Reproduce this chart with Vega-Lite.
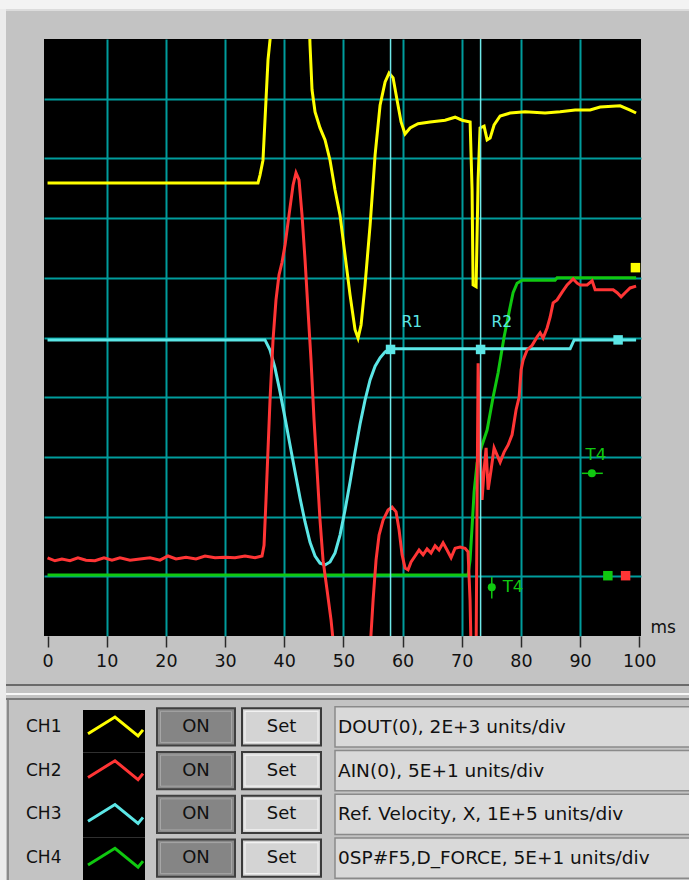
{
"$schema": "https://vega.github.io/schema/vega-lite/v6.json",
"width": 597, "height": 597,
"autosize": "none",
"padding": {"left": 44, "top": 39, "right": 48, "bottom": 244},
"background": "#c3c3c3",
"config": {"view": {"fill": "#000000", "stroke": null}, "font": "DejaVu Sans"},
"datasets": {
"one": [{}],
"traces": [
{"ch":"CH1","ms":0,"v":7.59},{"ch":"CH1","ms":35.57,"v":7.59},{"ch":"CH1","ms":35.91,"v":7.72},{"ch":"CH1","ms":36.41,"v":7.97},{"ch":"CH1","ms":36.92,"v":8.98},{"ch":"CH1","ms":37.26,"v":9.65},{"ch":"CH1","ms":37.77,"v":10.15},{"ch":"CH1","ms":38.44,"v":10.99},{"ch":"CH1","ms":44.02,"v":10.99},{"ch":"CH1","ms":44.36,"v":9.9},{"ch":"CH1","ms":44.7,"v":9.15},{"ch":"CH1","ms":45.21,"v":8.78},{"ch":"CH1","ms":46.05,"v":8.51},{"ch":"CH1","ms":46.9,"v":8.31},{"ch":"CH1","ms":47.74,"v":7.97},{"ch":"CH1","ms":48.59,"v":7.47},{"ch":"CH1","ms":49.43,"v":7.05},{"ch":"CH1","ms":50.28,"v":6.38},{"ch":"CH1","ms":51.13,"v":5.71},{"ch":"CH1","ms":51.97,"v":5.13},{"ch":"CH1","ms":52.48,"v":4.99},{"ch":"CH1","ms":52.99,"v":5.21},{"ch":"CH1","ms":53.66,"v":5.88},{"ch":"CH1","ms":54.51,"v":6.88},{"ch":"CH1","ms":55.36,"v":8.06},{"ch":"CH1","ms":56.2,"v":8.89},{"ch":"CH1","ms":57.05,"v":9.28},{"ch":"CH1","ms":57.72,"v":9.43},{"ch":"CH1","ms":58.4,"v":9.35},{"ch":"CH1","ms":59.07,"v":8.98},{"ch":"CH1","ms":59.75,"v":8.61},{"ch":"CH1","ms":60.42,"v":8.41},{"ch":"CH1","ms":61.27,"v":8.51},{"ch":"CH1","ms":62.62,"v":8.58},{"ch":"CH1","ms":64.65,"v":8.61},{"ch":"CH1","ms":67.19,"v":8.64},{"ch":"CH1","ms":68.88,"v":8.69},{"ch":"CH1","ms":70.07,"v":8.64},{"ch":"CH1","ms":71.42,"v":8.61},{"ch":"CH1","ms":71.75,"v":7.47},{"ch":"CH1","ms":71.92,"v":5.88},{"ch":"CH1","ms":72.43,"v":5.85},{"ch":"CH1","ms":72.77,"v":7.64},{"ch":"CH1","ms":73.1,"v":8.51},{"ch":"CH1","ms":73.78,"v":8.54},{"ch":"CH1","ms":74.29,"v":8.31},{"ch":"CH1","ms":74.8,"v":8.34},{"ch":"CH1","ms":75.47,"v":8.56},{"ch":"CH1","ms":76.49,"v":8.71},{"ch":"CH1","ms":78.18,"v":8.76},{"ch":"CH1","ms":80.71,"v":8.78},{"ch":"CH1","ms":84.09,"v":8.76},{"ch":"CH1","ms":86.63,"v":8.78},{"ch":"CH1","ms":89.17,"v":8.81},{"ch":"CH1","ms":91.7,"v":8.81},{"ch":"CH1","ms":93.39,"v":8.86},{"ch":"CH1","ms":96.77,"v":8.88},{"ch":"CH1","ms":98.46,"v":8.81},{"ch":"CH1","ms":99.47,"v":8.76},
{"ch":"CH2","ms":0,"v":1.31},{"ch":"CH2","ms":1.25,"v":1.26},{"ch":"CH2","ms":2.43,"v":1.29},{"ch":"CH2","ms":3.79,"v":1.26},{"ch":"CH2","ms":5.14,"v":1.31},{"ch":"CH2","ms":6.49,"v":1.27},{"ch":"CH2","ms":8.01,"v":1.26},{"ch":"CH2","ms":9.54,"v":1.31},{"ch":"CH2","ms":10.89,"v":1.27},{"ch":"CH2","ms":12.24,"v":1.31},{"ch":"CH2","ms":13.93,"v":1.27},{"ch":"CH2","ms":15.62,"v":1.29},{"ch":"CH2","ms":17.31,"v":1.31},{"ch":"CH2","ms":19.0,"v":1.27},{"ch":"CH2","ms":20.36,"v":1.34},{"ch":"CH2","ms":21.71,"v":1.29},{"ch":"CH2","ms":23.4,"v":1.32},{"ch":"CH2","ms":25.09,"v":1.29},{"ch":"CH2","ms":26.61,"v":1.34},{"ch":"CH2","ms":28.3,"v":1.31},{"ch":"CH2","ms":29.99,"v":1.32},{"ch":"CH2","ms":31.68,"v":1.31},{"ch":"CH2","ms":33.37,"v":1.34},{"ch":"CH2","ms":35.06,"v":1.31},{"ch":"CH2","ms":36.25,"v":1.34},{"ch":"CH2","ms":36.59,"v":1.52},{"ch":"CH2","ms":36.92,"v":2.28},{"ch":"CH2","ms":37.26,"v":3.12},{"ch":"CH2","ms":37.6,"v":3.95},{"ch":"CH2","ms":38.11,"v":4.96},{"ch":"CH2","ms":38.61,"v":5.63},{"ch":"CH2","ms":39.12,"v":6.05},{"ch":"CH2","ms":39.63,"v":6.26},{"ch":"CH2","ms":40.14,"v":6.55},{"ch":"CH2","ms":40.81,"v":7.05},{"ch":"CH2","ms":41.49,"v":7.55},{"ch":"CH2","ms":41.99,"v":7.76},{"ch":"CH2","ms":42.5,"v":7.64},{"ch":"CH2","ms":43.01,"v":7.05},{"ch":"CH2","ms":43.52,"v":6.3},{"ch":"CH2","ms":44.02,"v":5.46},{"ch":"CH2","ms":44.53,"v":4.62},{"ch":"CH2","ms":45.04,"v":3.62},{"ch":"CH2","ms":45.55,"v":2.78},{"ch":"CH2","ms":46.05,"v":1.94},{"ch":"CH2","ms":46.56,"v":1.27},{"ch":"CH2","ms":47.24,"v":0.77},{"ch":"CH2","ms":47.91,"v":0.27},{"ch":"CH2","ms":48.42,"v":-0.23},{"ch":"CH2","ms":51.13,"v":-1.41},{"ch":"CH2","ms":54.51,"v":-0.23},{"ch":"CH2","ms":55.02,"v":0.6},{"ch":"CH2","ms":55.52,"v":1.27},{"ch":"CH2","ms":56.03,"v":1.69},{"ch":"CH2","ms":56.71,"v":1.94},{"ch":"CH2","ms":57.55,"v":2.11},{"ch":"CH2","ms":58.23,"v":2.16},{"ch":"CH2","ms":58.9,"v":2.08},{"ch":"CH2","ms":59.41,"v":1.78},{"ch":"CH2","ms":59.92,"v":1.36},{"ch":"CH2","ms":60.42,"v":1.14},{"ch":"CH2","ms":60.93,"v":1.11},{"ch":"CH2","ms":61.44,"v":1.24},{"ch":"CH2","ms":62.12,"v":1.34},{"ch":"CH2","ms":62.79,"v":1.44},{"ch":"CH2","ms":63.47,"v":1.36},{"ch":"CH2","ms":64.14,"v":1.46},{"ch":"CH2","ms":64.82,"v":1.39},{"ch":"CH2","ms":65.5,"v":1.51},{"ch":"CH2","ms":66.17,"v":1.44},{"ch":"CH2","ms":66.85,"v":1.56},{"ch":"CH2","ms":67.52,"v":1.44},{"ch":"CH2","ms":68.2,"v":1.31},{"ch":"CH2","ms":68.88,"v":1.47},{"ch":"CH2","ms":69.72,"v":1.49},{"ch":"CH2","ms":70.57,"v":1.47},{"ch":"CH2","ms":71.07,"v":1.41},{"ch":"CH2","ms":71.41,"v":0.6},{"ch":"CH2","ms":71.58,"v":-0.23},{"ch":"CH2","ms":72.09,"v":-0.74},{"ch":"CH2","ms":72.43,"v":-0.23},{"ch":"CH2","ms":72.6,"v":2.28},{"ch":"CH2","ms":72.77,"v":4.57},{"ch":"CH2","ms":73.1,"v":3.12},{"ch":"CH2","ms":73.44,"v":2.28},{"ch":"CH2","ms":73.78,"v":2.78},{"ch":"CH2","ms":74.12,"v":3.15},{"ch":"CH2","ms":74.46,"v":2.45},{"ch":"CH2","ms":74.96,"v":2.78},{"ch":"CH2","ms":75.47,"v":3.15},{"ch":"CH2","ms":75.98,"v":3.03},{"ch":"CH2","ms":76.49,"v":2.91},{"ch":"CH2","ms":77.16,"v":3.08},{"ch":"CH2","ms":77.84,"v":3.2},{"ch":"CH2","ms":78.51,"v":3.37},{"ch":"CH2","ms":79.19,"v":3.79},{"ch":"CH2","ms":79.7,"v":4.0},{"ch":"CH2","ms":80.04,"v":4.46},{"ch":"CH2","ms":80.37,"v":4.62},{"ch":"CH2","ms":81.05,"v":4.79},{"ch":"CH2","ms":81.9,"v":4.87},{"ch":"CH2","ms":82.74,"v":5.01},{"ch":"CH2","ms":83.25,"v":5.08},{"ch":"CH2","ms":83.76,"v":4.99},{"ch":"CH2","ms":84.43,"v":5.16},{"ch":"CH2","ms":84.94,"v":5.34},{"ch":"CH2","ms":85.45,"v":5.58},{"ch":"CH2","ms":86.12,"v":5.63},{"ch":"CH2","ms":86.97,"v":5.76},{"ch":"CH2","ms":87.81,"v":5.88},{"ch":"CH2","ms":88.83,"v":5.98},{"ch":"CH2","ms":89.51,"v":5.91},{"ch":"CH2","ms":90.01,"v":5.88},{"ch":"CH2","ms":91.19,"v":5.88},{"ch":"CH2","ms":92.04,"v":5.95},{"ch":"CH2","ms":92.55,"v":5.8},{"ch":"CH2","ms":95.59,"v":5.8},{"ch":"CH2","ms":96.27,"v":5.75},{"ch":"CH2","ms":96.94,"v":5.68},{"ch":"CH2","ms":97.62,"v":5.75},{"ch":"CH2","ms":98.46,"v":5.83},{"ch":"CH2","ms":99.47,"v":5.86},
{"ch":"CH3","ms":0,"v":4.96},{"ch":"CH3","ms":36.75,"v":4.96},{"ch":"CH3","ms":37.6,"v":4.79},{"ch":"CH3","ms":38.44,"v":4.49},{"ch":"CH3","ms":39.29,"v":4.09},{"ch":"CH3","ms":40.14,"v":3.65},{"ch":"CH3","ms":40.98,"v":3.2},{"ch":"CH3","ms":41.83,"v":2.75},{"ch":"CH3","ms":42.67,"v":2.31},{"ch":"CH3","ms":43.52,"v":1.91},{"ch":"CH3","ms":44.36,"v":1.57},{"ch":"CH3","ms":45.21,"v":1.34},{"ch":"CH3","ms":46.05,"v":1.22},{"ch":"CH3","ms":46.9,"v":1.19},{"ch":"CH3","ms":47.74,"v":1.24},{"ch":"CH3","ms":48.59,"v":1.39},{"ch":"CH3","ms":49.43,"v":1.69},{"ch":"CH3","ms":50.28,"v":2.11},{"ch":"CH3","ms":51.13,"v":2.58},{"ch":"CH3","ms":51.97,"v":3.08},{"ch":"CH3","ms":52.82,"v":3.55},{"ch":"CH3","ms":53.66,"v":3.95},{"ch":"CH3","ms":54.51,"v":4.29},{"ch":"CH3","ms":55.36,"v":4.52},{"ch":"CH3","ms":56.2,"v":4.66},{"ch":"CH3","ms":57.05,"v":4.76},{"ch":"CH3","ms":57.89,"v":4.81},{"ch":"CH3","ms":88.32,"v":4.81},{"ch":"CH3","ms":89.0,"v":4.96},{"ch":"CH3","ms":99.47,"v":4.96},
{"ch":"CH4","ms":0,"v":1.02},{"ch":"CH4","ms":71.07,"v":1.02},{"ch":"CH4","ms":71.41,"v":1.27},{"ch":"CH4","ms":71.75,"v":1.83},{"ch":"CH4","ms":72.09,"v":2.41},{"ch":"CH4","ms":72.6,"v":2.9},{"ch":"CH4","ms":73.44,"v":3.2},{"ch":"CH4","ms":74.29,"v":3.45},{"ch":"CH4","ms":75.3,"v":4.0},{"ch":"CH4","ms":76.15,"v":4.41},{"ch":"CH4","ms":77.16,"v":5.01},{"ch":"CH4","ms":78.18,"v":5.51},{"ch":"CH4","ms":78.68,"v":5.75},{"ch":"CH4","ms":79.36,"v":5.91},{"ch":"CH4","ms":80.2,"v":5.96},{"ch":"CH4","ms":85.78,"v":5.96},{"ch":"CH4","ms":86.12,"v":6.0},{"ch":"CH4","ms":99.47,"v":6.0}
],
"markers": [{"ch":"CH1","ms":99.36,"v":6.17},{"ch":"CH3","ms":96.43,"v":4.96},{"ch":"CH4","ms":94.7,"v":1.01},{"ch":"CH2","ms":97.7,"v":1.01}],
"cursors": [{"name":"R1","ms":57.97,"v":4.8},{"name":"R2","ms":73.19,"v":4.8}],
"tmarks": [{"name":"T4","pos":"upper","ms":92.0,"v":2.725,"ms_lo":90.3,"ms_hi":93.85},{"name":"T4","pos":"lower","ms":75.08,"v":0.816,"v_lo":0.63,"v_hi":0.99}],
"panel": [
{"ch":"CH1","desc":"DOUT(0), 2E+3 units/div"},
{"ch":"CH2","desc":"AIN(0), 5E+1 units/div"},
{"ch":"CH3","desc":" Ref. Velocity, X, 1E+5 units/div"},
{"ch":"CH4","desc":"0SP#F5,D_FORCE, 5E+1 units/div"}
]
},
"resolve": {"scale": {"y": "independent"}},
"layer": [
{"data": {"name": "one"}, "mark": {"type": "rect", "x": -44, "x2": 645, "y": -39, "y2": -30, "fill": "#f3f3f3"}, "encoding": {}},
{"data": {"name": "one"}, "mark": {"type": "rect", "x": -44, "x2": -38, "y": -30, "y2": 841, "fill": "#ebebeb"}, "encoding": {}},
{"data": {"name": "one"}, "mark": {"type": "rect", "x": -38, "x2": 645, "y": -30, "y2": -28, "fill": "#dcdcdc"}, "encoding": {}},
{"data": {"name": "one"}, "mark": {"type": "rect", "x": -38, "x2": 645, "y": 645, "y2": 647, "fill": "#6a6a6a"}, "encoding": {}},
{"data": {"name": "one"}, "mark": {"type": "rect", "x": -38, "x2": 645, "y": 654, "y2": 656, "fill": "#f7f7f7"}, "encoding": {}},
{"data": {"name": "one"}, "mark": {"type": "rect", "x": -38, "x2": 645, "y": 659, "y2": 661, "fill": "#7a7a7a"}, "encoding": {}},
{"data": {"name": "one"}, "mark": {"type": "rect", "x": -37, "x2": -35, "y": 661, "y2": 841, "fill": "#8a8a8a"}, "encoding": {}},
{
"data": {"name": "traces"},
"encoding": {
"x": {"field": "ms", "type": "quantitative", "scale": {"domain": [-0.6, 100.3], "nice": false, "zero": false},
"axis": {"values": [0,10,20,30,40,50,60,70,80,90,100], "grid": true, "gridColor": "#009c9c", "gridWidth": 2,
"gridOpacity": {"condition": {"test": "datum.value <= 0 || datum.value >= 100", "value": 0}, "value": 1},
"domain": false, "tickColor": "#2a2a2a", "tickSize": 11, "tickWidth": 1.5,
"labelFont": "DejaVu Sans", "labelFontSize": 17.5, "labelColor": "#111111", "labelPadding": 5,
"labelFlush": false, "labelOverlap": false, "labelBound": false,
"title": "ms", "titleX": 606, "titleY": -9, "titleAlign": "left", "titleBaseline": "middle", "titleAngle": 0,
"titleFont": "DejaVu Sans", "titleFontSize": 17, "titleFontWeight": "normal", "titleColor": "#111111"}},
"y": {"field": "v", "type": "quantitative", "scale": {"domain": [0, 10], "nice": false, "zero": false},
"axis": {"values": [1,2,3,4,5,6,7,8,9], "grid": true, "gridColor": "#009c9c", "gridWidth": 2, "domain": false, "ticks": false, "labels": false, "title": null}}
},
"layer": [
{"transform": [{"filter": "datum.ch == 'CH4'"}], "mark": {"type": "line", "clip": true, "strokeWidth": 3, "color": "#10c810"}},
{"transform": [{"filter": "datum.ch == 'CH3'"}], "mark": {"type": "line", "clip": true, "strokeWidth": 3, "color": "#5ce6e6"}},
{"transform": [{"filter": "datum.ch == 'CH1'"}], "mark": {"type": "line", "clip": true, "strokeWidth": 3, "color": "#ffff00"}},
{"transform": [{"filter": "datum.ch == 'CH2'"}], "mark": {"type": "line", "clip": true, "strokeWidth": 3, "color": "#ff3535"}},
{"data": {"name": "cursors"}, "mark": {"type": "rule", "color": "#6fe8e8", "strokeWidth": 1.5}, "encoding": {"y": null}},
{"data": {"name": "cursors"}, "mark": {"type": "square", "filled": true, "opacity": 1, "size": 90, "color": "#5ce6e6"}},
{"data": {"name": "cursors"}, "mark": {"type": "text", "align": "left", "baseline": "middle", "dx": 11, "dy": -27, "fontSize": 15.5, "color": "#5ce6e6", "font": "DejaVu Sans"}, "encoding": {"text": {"field": "name"}}},
{"data": {"name": "markers"}, "mark": {"type": "square", "filled": true, "opacity": 1, "size": 90},
 "encoding": {"color": {"field": "ch", "type": "nominal", "legend": null, "scale": {"domain": ["CH1","CH2","CH3","CH4"], "range": ["#ffff00","#ff3535","#5ce6e6","#10c810"]}}}},
{"data": {"name": "tmarks"}, "transform": [{"filter": "datum.pos == 'upper'"}], "mark": {"type": "rule", "color": "#10c810", "strokeWidth": 1.5}, "encoding": {"x": {"field": "ms_lo", "type": "quantitative"}, "x2": {"field": "ms_hi"}}},
{"data": {"name": "tmarks"}, "transform": [{"filter": "datum.pos == 'lower'"}], "mark": {"type": "rule", "color": "#10c810", "strokeWidth": 1.5}, "encoding": {"y": {"field": "v_lo", "type": "quantitative"}, "y2": {"field": "v_hi"}}},
{"data": {"name": "tmarks"}, "mark": {"type": "circle", "opacity": 1, "size": 64, "color": "#10c810"}},
{"data": {"name": "tmarks"}, "transform": [{"filter": "datum.pos == 'upper'"}], "mark": {"type": "text", "align": "center", "baseline": "middle", "dx": 4, "dy": -18, "fontSize": 16.5, "color": "#10c810", "font": "DejaVu Sans"}, "encoding": {"text": {"field": "name"}}},
{"data": {"name": "tmarks"}, "transform": [{"filter": "datum.pos == 'lower'"}], "mark": {"type": "text", "align": "left", "baseline": "middle", "dx": 11, "fontSize": 16.5, "color": "#10c810", "font": "DejaVu Sans"}, "encoding": {"text": {"field": "name"}}}
]
},
{"data": {"name": "panel"}, "mark": {"type": "rect", "x": 39, "x2": 101, "fill": "#000000"},
 "encoding": {"y": {"field": "ch", "type": "nominal", "axis": null, "scale": {"domain": ["CH1","CH2","CH3","CH4"], "range": [671, 841], "paddingInner": 0, "paddingOuter": 0}}}},
{"data": {"name": "panel"}, "mark": {"type": "point", "shape": "M-1,0.25L-0.02,-0.36L0.82,0.33L1,0.11", "filled": false, "opacity": 1, "strokeWidth": 3, "size": 3025, "x": 71.5},
 "encoding": {"y": {"field": "ch", "type": "nominal", "axis": null, "scale": {"domain": ["CH1","CH2","CH3","CH4"], "range": [666, 841], "paddingInner": 0.15, "paddingOuter": 0.075}},
 "color": {"field": "ch", "type": "nominal", "legend": null, "scale": {"domain": ["CH1","CH2","CH3","CH4"], "range": ["#ffff00","#ff3535","#5ce6e6","#10c810"]}}}},
{"data": {"name": "panel"}, "mark": {"type": "rect", "x": 113, "x2": 191, "fill": "#8a8a8a", "stroke": "#404040", "strokeWidth": 2},
 "encoding": {"y": {"field": "ch", "type": "nominal", "axis": null, "scale": {"domain": ["CH1","CH2","CH3","CH4"], "range": [666, 841], "paddingInner": 0.15, "paddingOuter": 0.075}}}},
{"data": {"name": "panel"}, "mark": {"type": "rect", "x": 116.5, "x2": 187.5, "fill": "#858585", "stroke": "#a6a6a6", "strokeWidth": 1},
 "encoding": {"y": {"field": "ch", "type": "nominal", "axis": null, "scale": {"domain": ["CH1","CH2","CH3","CH4"], "range": [666, 841], "paddingInner": 0.29, "paddingOuter": 0.145}}}},
{"data": {"name": "panel"}, "mark": {"type": "rect", "x": 198, "x2": 277, "fill": "#d2d2d2", "stroke": "#3a3a3a", "strokeWidth": 2},
 "encoding": {"y": {"field": "ch", "type": "nominal", "axis": null, "scale": {"domain": ["CH1","CH2","CH3","CH4"], "range": [666, 841], "paddingInner": 0.15, "paddingOuter": 0.075}}}},
{"data": {"name": "panel"}, "mark": {"type": "rect", "x": 201, "x2": 274, "fill": "#d4d4d4", "stroke": "#f2f2f2", "strokeWidth": 1.2},
 "encoding": {"y": {"field": "ch", "type": "nominal", "axis": null, "scale": {"domain": ["CH1","CH2","CH3","CH4"], "range": [666, 841], "paddingInner": 0.29, "paddingOuter": 0.145}}}},
{"data": {"name": "panel"}, "mark": {"type": "rect", "x": 291, "x2": 648, "fill": "#d9d9d9", "stroke": "#8a8a8a", "strokeWidth": 1.5},
 "encoding": {"y": {"field": "ch", "type": "nominal", "axis": null, "scale": {"domain": ["CH1","CH2","CH3","CH4"], "range": [666, 841], "paddingInner": 0.08, "paddingOuter": 0.04}}}},
{"data": {"name": "panel"}, "mark": {"type": "text", "x": -18, "align": "left", "baseline": "middle", "fontSize": 17, "color": "#111111", "font": "DejaVu Sans"},
 "encoding": {"y": {"field": "ch", "type": "nominal", "axis": null, "scale": {"domain": ["CH1","CH2","CH3","CH4"], "range": [666, 841], "paddingInner": 0.15, "paddingOuter": 0.075}}, "text": {"field": "ch"}}},
{"data": {"name": "panel"}, "mark": {"type": "text", "x": 152, "align": "center", "baseline": "middle", "fontSize": 18, "color": "#111111", "font": "DejaVu Sans", "text": "ON"},
 "encoding": {"y": {"field": "ch", "type": "nominal", "axis": null, "scale": {"domain": ["CH1","CH2","CH3","CH4"], "range": [666, 841], "paddingInner": 0.15, "paddingOuter": 0.075}}}},
{"data": {"name": "panel"}, "mark": {"type": "text", "x": 237.5, "align": "center", "baseline": "middle", "fontSize": 18, "color": "#111111", "font": "DejaVu Sans", "text": "Set"},
 "encoding": {"y": {"field": "ch", "type": "nominal", "axis": null, "scale": {"domain": ["CH1","CH2","CH3","CH4"], "range": [666, 841], "paddingInner": 0.15, "paddingOuter": 0.075}}}},
{"data": {"name": "panel"}, "mark": {"type": "text", "x": 294, "align": "left", "baseline": "middle", "fontSize": 18.5, "color": "#111111", "font": "DejaVu Sans"},
 "encoding": {"y": {"field": "ch", "type": "nominal", "axis": null, "scale": {"domain": ["CH1","CH2","CH3","CH4"], "range": [666, 841], "paddingInner": 0.15, "paddingOuter": 0.075}}, "text": {"field": "desc"}}}
]
}
